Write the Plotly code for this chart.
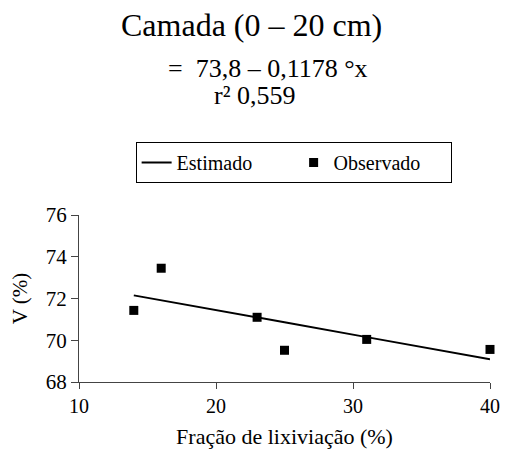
import plotly.graph_objects as go

x_obs = [14, 16, 23, 25, 31, 40]
v_obs = [71.43, 73.45, 71.1, 69.52, 70.04, 69.56]
x_est = [14, 16, 23, 25, 31, 40]
v_est = [72.15, 71.92, 71.09, 70.86, 70.15, 69.09]

FONT = "Liberation Serif, Times New Roman, serif"
fig = go.Figure()
fig.add_trace(go.Scatter(x=x_est, y=v_est, mode="lines", name="Estimado",
                         line=dict(color="black", width=2)))
fig.add_trace(go.Scatter(x=x_obs, y=v_obs, mode="markers", name="Observado", cliponaxis=False,
                         marker=dict(symbol="square", color="black", size=9)))

L, T, PW, PH = 79, 215, 421, 167
def px(xp): return (xp - L) / PW
def py(yp): return (T + PH - yp) / PH

fig.update_layout(
    width=512, height=463,
    margin=dict(l=L, r=512 - L - PW, t=T, b=463 - T - PH),
    paper_bgcolor="white", plot_bgcolor="white",
    font=dict(family=FONT, color="black", size=20),
    showlegend=True,
    legend=dict(orientation="h", x=px(137), y=py(142), xanchor="left", yanchor="top",
                bordercolor="black", borderwidth=1, font=dict(size=20, family=FONT),
                entrywidth=112, tracegroupgap=0),
    xaxis=dict(range=[10, 40], tickvals=[10, 20, 30, 40], showgrid=False, zeroline=False,
               showline=True, linecolor="#444", linewidth=1, ticks="outside", ticklen=6,
               tickcolor="#444", tickfont=dict(size=20),
               title=dict(text="Fração de lixiviação (%)", font=dict(size=22), standoff=12)),
    yaxis=dict(range=[68, 76], tickvals=[68, 70, 72, 74, 76], showgrid=False, zeroline=False,
               showline=True, linecolor="#444", linewidth=1, ticks="outside", ticklen=7,
               tickcolor="#444", tickfont=dict(size=21),
               title=dict(text="V (%)", font=dict(size=21), standoff=12)),
    annotations=[
        dict(text="Camada (0 – 20 cm)", x=px(256), y=py(25), xref="paper", yref="paper",
             showarrow=False, font=dict(size=32, family=FONT), xanchor="center", yanchor="middle"),
        dict(text="=  73,8 – 0,1178 °x", x=px(168), y=py(68), xref="paper", yref="paper",
             showarrow=False, font=dict(size=26, family=FONT), xanchor="left", yanchor="middle"),
        dict(text="r² 0,559", x=px(215), y=py(95), xref="paper", yref="paper",
             showarrow=False, font=dict(size=26, family=FONT), xanchor="left", yanchor="middle"),
    ],
)
fig.write_html("out.html")
